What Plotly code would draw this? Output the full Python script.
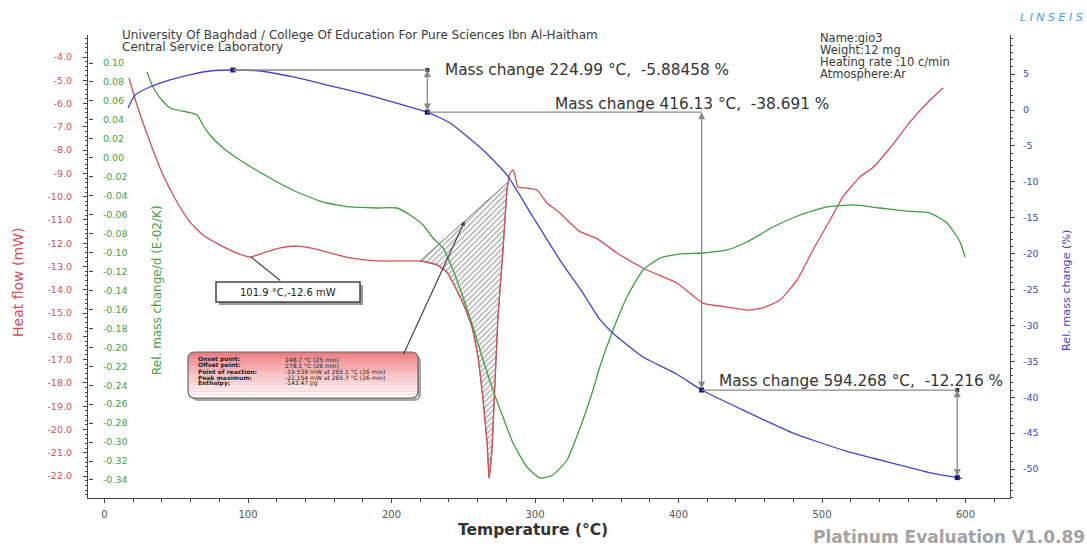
import numpy as np
import plotly.graph_objects as go

# ---------------- data ----------------
temp_hf = [17.1, 22.6, 31.7, 40.8, 50.5, 59.6, 68.6, 80.5, 92.3, 101.4, 110.5, 122.3, 134.1, 143.2,
           155.1, 171.1, 189.9, 208.0, 219.9, 231.7, 238.7, 242.9, 249.8, 256.1, 260.3, 263.8, 266.6,
           268.0, 270.0, 272.1, 274.2, 277.7, 280.5, 282.6, 284.7, 286.0, 288.2, 294.4, 301.4, 308.4,
           317.4, 322.3, 331.4, 343.2, 357.1, 378.0, 398.9, 417.0, 433.8, 447.7, 458.9, 470.7, 482.6,
           493.7, 505.6, 514.6, 526.5, 535.5, 547.4, 561.3, 575.3, 584.3]
heat_flow = [-4.90, -6.06, -7.65, -9.07, -10.23, -11.09, -11.65, -12.08, -12.42, -12.59, -12.42, -12.20,
             -12.12, -12.20, -12.38, -12.63, -12.76, -12.76, -12.76, -12.93, -13.24, -13.71, -14.57,
             -15.60, -16.89, -18.73, -20.58, -22.09, -20.88, -18.00, -15.17, -12.29, -9.71, -8.98,
             -8.85, -9.07, -9.58, -9.63, -9.71, -10.27, -10.70, -11.00, -11.50, -11.80, -12.42, -13.15,
             -13.71, -14.57, -14.74, -14.87, -14.78, -14.44, -13.58, -12.29, -11.00, -10.01, -9.15,
             -8.75, -7.91, -6.79, -5.85, -5.33]

temp_dtg = [29.6, 33.1, 38.7, 45.6, 57.5, 64.5, 68.6, 73.5, 82.6, 96.5, 115.3, 134.1, 152.3, 171.1,
            189.9, 203.8, 212.9, 222.0, 228.9, 235.9, 242.9, 249.8, 256.8, 263.8, 270.7, 277.7, 284.7,
            294.4, 303.5, 312.5, 322.3, 331.4, 340.4, 345.3, 354.4, 364.1, 375.3, 387.1, 401.0, 417.0,
            433.8, 447.7, 465.9, 484.7, 503.5, 521.6, 540.4, 559.2, 575.3, 587.1, 596.2, 599.7]
dtg = [0.0905, 0.0768, 0.0631, 0.0525, 0.0483, 0.0451, 0.0346, 0.0240, 0.0103, -0.0045, -0.0213,
       -0.0361, -0.0467, -0.0519, -0.0530, -0.0530, -0.0604, -0.0709, -0.0847, -0.0952, -0.1184,
       -0.1469, -0.1786, -0.2134, -0.2451, -0.2736, -0.3010, -0.3263, -0.3379, -0.3347, -0.3189,
       -0.2850, -0.2450, -0.2200, -0.1817, -0.1469, -0.1184, -0.1058, -0.1015, -0.1005, -0.0973,
       -0.0889, -0.0731, -0.0604, -0.0519, -0.0498, -0.0530, -0.0562, -0.0583, -0.0688, -0.0889,
       -0.1047]

temp_tg = [16.4, 21.3, 31.7, 45.6, 61.7, 73.5, 89.5, 108.4, 131.4, 155.1, 178.0, 201.0, 225.0, 240.8,
           263.8, 280.5, 298.6, 317.4, 333.4, 345.3, 354.4, 375.3, 398.9, 416.1, 445.0, 480.0, 515.0,
           549.5, 575.0, 594.3, 597.6]
mass = [0.28, 2.09, 3.20, 4.18, 5.01, 5.43, 5.57, 5.43, 4.60, 3.48, 2.37, 1.11, -0.31, -1.81, -5.57,
        -9.05, -14.90, -20.90, -25.50, -29.20, -31.10, -34.40, -36.80, -39.00, -41.80, -45.00, -47.40,
        -49.20, -50.50, -51.20, -51.30]

mc_temps = [89.5, 224.99, 416.13, 594.268]
mc_texts = ["Mass change 224.99 °C,  -5.88458 %",
            "Mass change 416.13 °C,  -38.691 %",
            "Mass change 594.268 °C,  -12.216 %"]

peak_onset, peak_end = 220.0, 281.5
peak_point = 101.9
peak_point_text = "101.9 °C,-12.6 mW"
box_labels = ["Onset point:", "Offset point:", "Point of reaction:", "Peak maximum:", "Enthalpy:"]
box_values = ["248.7 °C (25 min)", "278.1 °C (26 min)", "-19.539 mW at 265.1 °C (26 min)",
              "-22.154 mW at 265.7 °C (26 min)", "-143.47 J/g"]

x_ticks = [0, 100, 200, 300, 400, 500, 600]
hf_ticks = [-4.0 - i for i in range(19)]
dtg_ticks = [round(0.10 - 0.02 * i, 2) for i in range(23)]
tg_ticks = [5 - 5 * i for i in range(12)]

info_lines = ["Name:gio3", "Weight:12 mg", "Heating rate :10 c/min", "Atmosphere:Ar"]

# ---------------- layout geometry ----------------
W, H = 1087, 547
ML, MR, MT, MB = 88, 77, 35, 49
PW, PH = W - ML - MR, H - MT - MB

def px(x, y):
    return (x - ML) / PW, (H - MB - y) / PH

RED, GREEN, BLUE = "#d2505a", "#3f9f3f", "#4444c4"
FONT = "DejaVu Sans"

fig = go.Figure()

# hatched peak area
mask = [(t > peak_onset and t < peak_end) for t in temp_hf]
inside_t = [t for t, m in zip(temp_hf, mask) if m]
inside_h = [h for h, m in zip(heat_flow, mask) if m]
h_on = float(np.interp(peak_onset, temp_hf, heat_flow))
h_end = float(np.interp(peak_end, temp_hf, heat_flow))
fig.add_trace(go.Scatter(
    x=[peak_onset] + inside_t + [peak_end, peak_onset],
    y=[h_on] + inside_h + [h_end, h_on],
    mode="lines", fill="toself", line=dict(color="#555", width=0.8),
    fillcolor="rgba(0,0,0,0)",
    fillpattern=dict(shape="/", fgcolor="#555", bgcolor="rgba(255,255,255,0)", size=4, solidity=0.35),
    hoverinfo="skip", showlegend=False, yaxis="y"))

fig.add_trace(go.Scatter(x=temp_hf, y=heat_flow, mode="lines", yaxis="y",
                         line=dict(color=RED, width=1.3, shape="spline", smoothing=0.5), showlegend=False))
fig.add_trace(go.Scatter(x=temp_dtg, y=dtg, mode="lines", yaxis="y2",
                         line=dict(color=GREEN, width=1.3, shape="spline", smoothing=0.5), showlegend=False))
fig.add_trace(go.Scatter(x=temp_tg, y=mass, mode="lines", yaxis="y3",
                         line=dict(color=BLUE, width=1.3, shape="spline", smoothing=0.5), showlegend=False))

mc_vals = [float(np.interp(t, temp_tg, mass)) for t in mc_temps]

shapes = []
annotations = []
for i in range(1, 4):
    shapes.append(dict(type="line", xref="x", yref="y3", x0=mc_temps[i - 1], x1=mc_temps[i],
                       y0=mc_vals[i - 1], y1=mc_vals[i - 1], line=dict(color="#8a8a8a", width=1.3)))
    annotations.append(dict(xref="x", yref="y3", axref="x", ayref="y3", x=mc_temps[i], y=mc_vals[i - 1],
                            ax=mc_temps[i], ay=mc_vals[i], text="", showarrow=True, arrowside="end+start",
                            arrowhead=2, arrowsize=1.1, arrowwidth=1.3, arrowcolor="#8a8a8a"))

# markers at annotation points
fig.add_trace(go.Scatter(x=mc_temps, y=mc_vals, mode="markers", yaxis="y3",
                         marker=dict(symbol="square", size=5, color="#1c1c6a"), showlegend=False))
fig.add_trace(go.Scatter(x=[mc_temps[1], mc_temps[3]], y=[mc_vals[0], mc_vals[2]], mode="markers",
                         yaxis="y3", marker=dict(symbol="square", size=4, color="#333"), showlegend=False))

def txt_ann(x, y, text, size, color, xanchor="center", yanchor="middle", angle=0):
    a, b = px(x, y)
    return dict(xref="paper", yref="paper", x=a, y=b, xanchor=xanchor, yanchor=yanchor, text=text,
                textangle=angle, showarrow=False, font=dict(family=FONT, size=size, color=color))

# mass change texts
for (tx, ty), txt in zip([(443, 70), (553, 104), (717, 381)], mc_texts):
    annotations.append(txt_ann(tx, ty, txt, 15.3, "#333", xanchor="left"))

# 101.9 box
bx0, by0 = px(216, 282)
bx1, by1 = px(360, 302)
sx0, sy0 = px(219, 285)
sx1, sy1 = px(363, 305)
shapes.append(dict(type="rect", xref="paper", yref="paper", x0=sx0, y0=sy0, x1=sx1, y1=sy1,
                   fillcolor="#9a9a9a", line=dict(width=0)))
shapes.append(dict(type="rect", xref="paper", yref="paper", x0=bx0, y0=by0, x1=bx1, y1=by1,
                   fillcolor="white", line=dict(color="#444", width=1.5)))
annotations.append(dict(xref="x", yref="y", x=peak_point, y=float(np.interp(peak_point, temp_hf, heat_flow)),
                        ax=31, ay=25, text="", showarrow=True, arrowhead=0, arrowwidth=1.2, arrowcolor="#444"))
annotations.append(txt_ann(288, 292, peak_point_text, 10, "#222"))

# peak info box (rounded, gradient)
def rounded(x0, y0, x1, y1, r):
    pts = lambda x, y: "%.5f,%.5f" % px(x, y)
    return ("M " + pts(x0 + r, y0) + " L " + pts(x1 - r, y0) + " Q " + pts(x1, y0) + " " + pts(x1, y0 + r) +
            " L " + pts(x1, y1 - r) + " Q " + pts(x1, y1) + " " + pts(x1 - r, y1) +
            " L " + pts(x0 + r, y1) + " Q " + pts(x0, y1) + " " + pts(x0, y1 - r) +
            " L " + pts(x0, y0 + r) + " Q " + pts(x0, y0) + " " + pts(x0 + r, y0) + " Z")

RX0, RY0, RX1, RY1 = 188, 352, 418, 398
shapes.append(dict(type="path", xref="paper", yref="paper", path=rounded(RX0 + 3, RY0 + 3, RX1 + 3, RY1 + 3, 7),
                   fillcolor="rgba(0,0,0,0.35)", line=dict(width=0)))
shapes.append(dict(type="path", xref="paper", yref="paper", path=rounded(RX0, RY0, RX1, RY1, 7),
                   fillcolor="#ee7c80", line=dict(width=0)))
n = 14
for i in range(1, n):
    ya, yb = RY0 + (RY1 - RY0) * i / n, RY0 + (RY1 - RY0) * (i + 1) / n
    x0p, y0p = px(RX0, yb)
    x1p, y1p = px(RX1, ya)
    shapes.append(dict(type="rect", xref="paper", yref="paper", x0=x0p, y0=y0p, x1=x1p, y1=y1p,
                       fillcolor="white", opacity=min(0.95, (i / (n - 1)) ** 0.8 * 0.97), line=dict(width=0)))
shapes.append(dict(type="path", xref="paper", yref="paper", path=rounded(RX0, RY0, RX1, RY1, 7),
                   fillcolor="rgba(0,0,0,0)", line=dict(color="#666", width=1.2)))
for k, (lab, val) in enumerate(zip(box_labels, box_values)):
    yy = 359 + 6 * k
    annotations.append(txt_ann(196, yy, "<b>" + lab + "</b>", 6, "#222", xanchor="left"))
    annotations.append(txt_ann(283, yy, val, 6, "#222", xanchor="left"))

# leader to hatched area
lead_t = 251.0
lead_h = h_on + (h_end - h_on) * (lead_t - peak_onset) / (peak_end - peak_onset)
annotations.append(dict(xref="x", yref="y", x=lead_t, y=lead_h, ax=-62, ay=135, text="", showarrow=True,
                        arrowhead=2, arrowsize=0.8, arrowwidth=1.2, arrowcolor="#444"))

# header / info texts
annotations.append(txt_ann(120, 35, "University Of Baghdad / College Of Education For Pure Sciences Ibn Al-Haitham",
                           12, "#3a3a3a", xanchor="left"))
annotations.append(txt_ann(120, 47, "Central Service Laboratory", 12, "#3a3a3a", xanchor="left"))
for k, txt in enumerate(info_lines):
    annotations.append(txt_ann(818, 38 + 12 * k, txt, 11.5, "#3a3a3a", xanchor="left"))
annotations.append(txt_ann(1051, 18, "<i>L I N S E I S</i>", 11, "#3aa3d3"))
annotations.append(txt_ann(1087, 537, "<b>Platinum Evaluation V1.0.89</b>", 17, "#a3a3a3", xanchor="right"))

# axis titles
annotations.append(txt_ann(18, 283, "Heat flow (mW)", 14, RED, angle=-90))
annotations.append(txt_ann(157, 290, "Rel. mass change/d (E-02/K)", 12, GREEN, angle=-90))
annotations.append(txt_ann(1066, 291, "Rel. mass change (%)", 11.2, BLUE, angle=-90))
annotations.append(txt_ann(533, 530, "<b>Temperature (°C)</b>", 15.5, "#333"))

# ranges from pixel calibration
x_rng = [(ML - 104.5) / 1.435, (W - MR - 104.5) / 1.435]
hf_rng = [-4 - (H - MB - 57) / 23.28, -4 + (57 - MT) / 23.28]
dtg_rng = [0.10 - (H - MB - 63) * 0.0010552, 0.10 + (63 - MT) * 0.0010552]
tg_rng = [-(H - MB - 110) / 7.18, (110 - MT) / 7.18]

fig.update_layout(
    width=W, height=H, margin=dict(l=ML, r=MR, t=MT, b=MB),
    paper_bgcolor="white", plot_bgcolor="white", showlegend=False,
    font=dict(family=FONT),
    xaxis=dict(range=x_rng, tickmode="array", tickvals=x_ticks, ticktext=[str(v) for v in x_ticks],
               showgrid=False, zeroline=False, showline=True, linecolor="#444", linewidth=1.2,
               ticks="outside", ticklen=4, tickcolor="#444",
               minor=dict(tickmode="linear", tick0=0, dtick=20, ticks="outside", ticklen=3, tickcolor="#444"),
               tickfont=dict(size=10, color="#555"), ticklabelstandoff=3),
    yaxis=dict(range=hf_rng, tickmode="array", tickvals=hf_ticks, ticktext=["%.1f" % v for v in hf_ticks],
               showgrid=False, zeroline=False, showline=True, linecolor="#444", linewidth=1.2,
               ticks="outside", ticklen=4, tickcolor="#444",
               minor=dict(tickmode="linear", tick0=0, dtick=0.2, ticks="outside", ticklen=2, tickcolor="#444"),
               tickfont=dict(size=9.5, color=RED), ticklabelstandoff=9),
    yaxis2=dict(range=dtg_rng, overlaying="y", side="right", anchor="free", position=0.0,
                tickmode="array", tickvals=dtg_ticks,
                ticktext=["%.2f" % v for v in dtg_ticks], showgrid=False, zeroline=False, showline=False,
                ticks="outside", ticklen=4, tickcolor="#444",
                tickfont=dict(size=9.5, color=GREEN), ticklabelstandoff=8),
    yaxis3=dict(range=tg_rng, overlaying="y", side="right", anchor="x", tickmode="array", tickvals=tg_ticks,
                ticktext=[str(v) for v in tg_ticks], showgrid=False, zeroline=False, showline=True,
                linecolor="#444", linewidth=1.2, ticks="outside", ticklen=4, tickcolor="#444",
                minor=dict(tickmode="linear", tick0=0, dtick=1, ticks="outside", ticklen=2, tickcolor="#444"),
                tickfont=dict(size=9.5, color=BLUE), ticklabelstandoff=6),
    shapes=shapes, annotations=annotations,
)

fig.write_html("out.html", config={"displayModeBar": False},
               post_script="document.body.style.margin='0';document.body.style.overflow='hidden';")
